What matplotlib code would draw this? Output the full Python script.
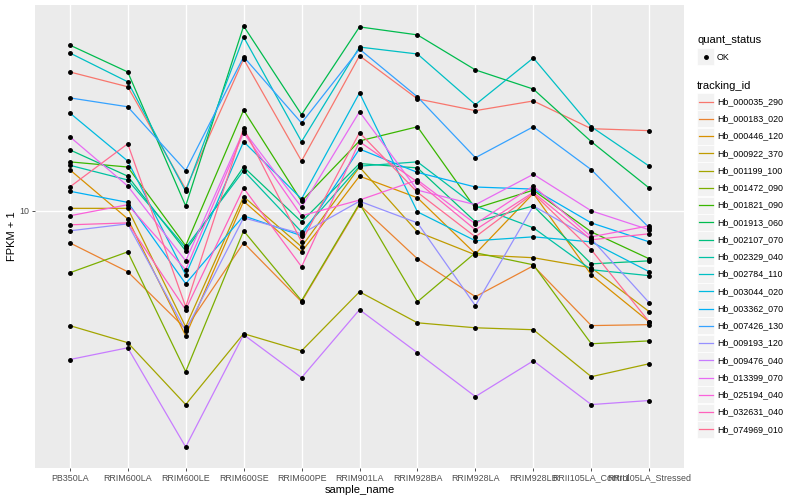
import numpy as np
import matplotlib
matplotlib.use("Agg")
import matplotlib.pyplot as plt
from matplotlib.patches import Rectangle
from matplotlib.lines import Line2D
from matplotlib.ticker import NullLocator

plt.rcParams['font.family'] = ['Liberation Sans', 'DejaVu Sans']

samples = ["PB350LA", "RRIM600LA", "RRIM600LE", "RRIM600SE", "RRIM600PE",
           "RRIM901LA", "RRIM928BA", "RRIM928LA", "RRIM928LB",
           "RRII105LA_Control", "RRII105LA_Stressed"]

tracking_ids = ["Hb_000035_290", "Hb_000183_020", "Hb_000446_120", "Hb_000922_370",
                "Hb_001199_100", "Hb_001472_090", "Hb_001821_090", "Hb_001913_060",
                "Hb_002107_070", "Hb_002329_040", "Hb_002784_110", "Hb_003044_020",
                "Hb_003362_070", "Hb_007426_130", "Hb_009193_120", "Hb_009476_040",
                "Hb_013399_070", "Hb_025194_040", "Hb_032631_040", "Hb_074969_010"]

# ggplot hue palette for 20 levels
colors = ["#F8766D", "#EA8331", "#D89000", "#C09B00", "#A3A500", "#7CAE00",
          "#39B600", "#00BB4E", "#00BF7D", "#00C1A3", "#00BFC4", "#00BAE0",
          "#00B0F6", "#35A2FF", "#9590FF", "#C77CFF", "#E76BF3", "#FA62DB",
          "#FF62BC", "#FF6C91"]

# FPKM + 1 per gene, one value per sample
hb_000035_290 = [30.4, 27.0, 11.9, 33.7, 14.9, 34.6, 24.5, 22.3, 24.1, 19.3, 19.0]
hb_000183_020 = [7.74, 6.14, 3.89, 7.74, 4.83, 10.5, 6.81, 5.03, 6.44, 3.99, 4.02]
hb_000446_120 = [13.9, 9.38, 3.68, 10.8, 7.20, 13.2, 11.1, 7.09, 11.5, 5.99, 4.11]
hb_000922_370 = [10.2, 10.2, 3.95, 11.2, 7.50, 14.2, 8.45, 7.03, 6.87, 6.34, 4.46]
hb_001199_100 = [3.99, 3.48, 2.12, 3.74, 3.26, 5.23, 4.08, 3.92, 3.86, 2.65, 2.94]
hb_001472_090 = [6.09, 7.20, 2.76, 8.52, 4.87, 10.6, 4.83, 7.15, 6.49, 3.45, 3.53]
hb_001821_090 = [14.8, 14.2, 7.56, 22.4, 10.8, 17.5, 19.6, 10.2, 11.8, 8.45, 6.81]
hb_001913_060 = [37.7, 30.4, 10.4, 43.9, 21.6, 43.6, 40.9, 30.9, 26.5, 17.4, 12.0]
hb_002107_070 = [16.3, 13.2, 7.26, 14.2, 9.16, 14.6, 14.1, 9.16, 10.4, 6.54, 6.70]
hb_002329_040 = [14.4, 12.8, 7.44, 13.8, 8.45, 14.3, 14.8, 10.4, 8.73, 6.24, 5.95]
hb_002784_110 = [35.4, 28.1, 11.7, 40.2, 17.4, 37.1, 35.1, 23.4, 34.0, 19.6, 14.3]
hb_003044_020 = [21.9, 14.9, 5.99, 17.4, 11.0, 25.7, 9.92, 7.87, 8.12, 7.80, 6.14]
hb_003362_070 = [11.7, 10.7, 5.58, 9.61, 8.19, 16.4, 13.6, 12.1, 11.9, 9.08, 7.80]
hb_007426_130 = [24.7, 23.0, 13.8, 34.3, 20.2, 36.5, 24.9, 15.3, 19.6, 13.9, 8.73]
hb_009193_120 = [8.52, 9.01, 3.83, 9.46, 8.32, 10.8, 9.08, 4.68, 10.4, 7.99, 4.79]
hb_009476_040 = [3.04, 3.34, 1.51, 3.71, 2.63, 4.53, 3.21, 2.26, 3.01, 2.12, 2.19]
hb_013399_070 = [18.1, 12.2, 6.70, 19.0, 10.3, 22.1, 11.8, 10.5, 13.4, 10.0, 8.59]
hb_025194_040 = [9.61, 10.5, 6.24, 18.7, 9.61, 10.9, 12.8, 9.01, 12.2, 8.12, 8.87]
hb_032631_040 = [8.94, 9.08, 4.53, 12.0, 6.39, 17.4, 12.6, 8.59, 11.6, 7.93, 8.32]
hb_074969_010 = [12.1, 17.1, 4.64, 19.4, 7.80, 18.7, 11.6, 8.12, 11.5, 7.32, 4.11]

series = [hb_000035_290, hb_000183_020, hb_000446_120, hb_000922_370, hb_001199_100,
          hb_001472_090, hb_001821_090, hb_001913_060, hb_002107_070, hb_002329_040,
          hb_002784_110, hb_003044_020, hb_003362_070, hb_007426_130, hb_009193_120,
          hb_009476_040, hb_013399_070, hb_025194_040, hb_032631_040, hb_074969_010]

fig = plt.figure(figsize=(8, 5), dpi=100)
ax = fig.add_axes([35 / 800, 32 / 500, 649 / 800, 463 / 500])
ax.set_facecolor("#EBEBEB")
for s in ax.spines.values():
    s.set_visible(False)

x = np.arange(len(samples))
for vals, col in zip(series, colors):
    ax.plot(x, vals, color=col, lw=0.9, zorder=2)
for vals in series:
    ax.plot(x, vals, ls="none", marker="o", ms=2.5, color="black", zorder=3)

ax.set_yscale("log")
allv = np.concatenate([np.asarray(v) for v in series])
lo, hi = np.log10(allv.min()), np.log10(allv.max())
pad = 0.05 * (hi - lo)
ax.set_ylim(10 ** (lo - pad), 10 ** (hi + pad))
ax.set_yticks([10])
ax.set_yticklabels(["10"])
ax.yaxis.set_minor_locator(NullLocator())

ax.set_xlim(-0.6, len(samples) - 0.4)
ax.set_xticks(x)
ax.set_xticklabels(samples)

ax.grid(True, color="white", lw=1.0, zorder=0)
ax.set_axisbelow(True)
ax.tick_params(length=2.5, width=0.6, color="#333333", labelcolor="#4D4D4D",
               labelsize=6.4, pad=1.5)
ax.set_xlabel("sample_name", fontsize=8, labelpad=2)
ax.set_ylabel("FPKM + 1", fontsize=8, labelpad=2)


def fx(px):
    return px / 800


def fy(py):
    return 1 - py / 500


# legends (ggplot style, drawn by hand)
fig.text(fx(697), fy(40), "quant_status", fontsize=8, va="center")
fig.add_artist(Rectangle((fx(697), fy(65)), 17 / 800, 17 / 500, transform=fig.transFigure,
                         fc="#F2F2F2", ec="white", lw=0.5))
fig.add_artist(Line2D([fx(705.5)], [fy(57)], ls="none", marker="o", ms=2.5, color="black",
                      transform=fig.transFigure))
fig.text(fx(717), fy(57), "OK", fontsize=6.4, va="center")

fig.text(fx(697), fy(86), "tracking_id", fontsize=8, va="center")
for i, (name, col) in enumerate(zip(tracking_ids, colors)):
    yc = 101.5 + i * 17.26
    fig.add_artist(Rectangle((fx(697), fy(yc + 8.5)), 17 / 800, 17 / 500,
                             transform=fig.transFigure, fc="#F2F2F2", ec="white", lw=0.5))
    fig.add_artist(Line2D([fx(698.5), fx(712.5)], [fy(yc), fy(yc)], color=col, lw=0.9,
                          transform=fig.transFigure))
    fig.text(fx(717), fy(yc), name, fontsize=6.4, va="center")

fig.savefig("out.png", dpi=100)
plt.close(fig)
